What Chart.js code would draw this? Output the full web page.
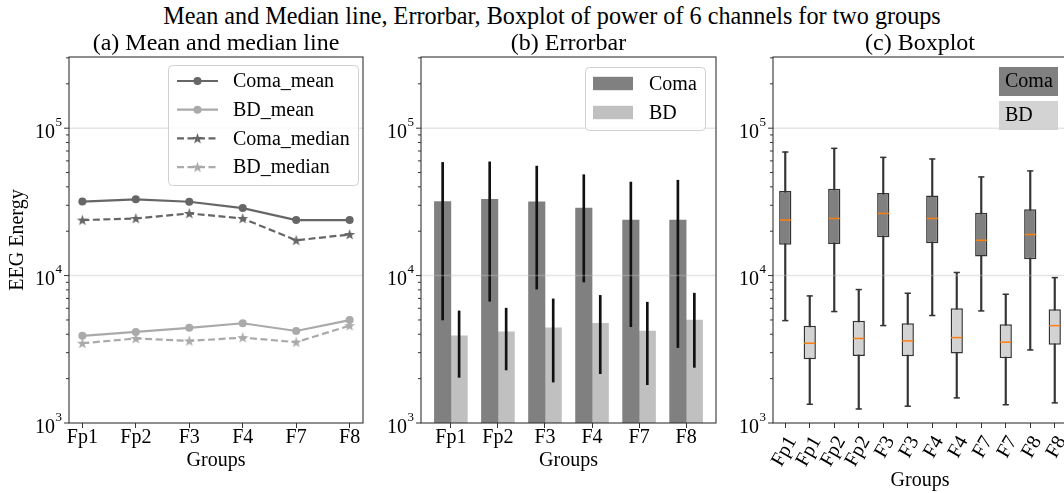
<!DOCTYPE html>
<html><head><meta charset="utf-8">
<script src="https://cdn.jsdelivr.net/npm/chart.js@4.4.0/dist/chart.umd.min.js"></script>
<style>
html,body{margin:0;padding:0;background:#fff;overflow:hidden;width:1064px;height:493px;}
#wrap{position:relative;width:1064px;height:493px;overflow:hidden;background:#fff;}
canvas{position:absolute;top:0;}
#title{position:absolute;left:0;width:1104px;top:4px;text-align:center;font:24.2px "Liberation Serif";line-height:24px;color:#000;white-space:nowrap;}
</style></head><body>
<div id="wrap">
<div id="title">Mean and Median line, Errorbar, Boxplot of power of 6 channels for two groups</div>
<canvas id="ca" width="380" height="493" style="left:0px"></canvas>
<canvas id="cb" width="345" height="493" style="left:380px"></canvas>
<canvas id="cc" width="350" height="493" style="left:725px"></canvas>
</div>
<script>
// ---------------- data ----------------
const channels = ['Fp1', 'Fp2', 'F3', 'F4', 'F7', 'F8'];
const comaMean = [31800, 32900, 31700, 28700, 23800, 23800];
const bdMean = [3900, 4150, 4420, 4750, 4210, 4990];
const comaMedian = [23800, 24400, 26400, 24400, 17350, 19000];
const bdMedian = [3475, 3745, 3605, 3795, 3535, 4575];
const comaStd = [26800, 26200, 23600, 19650, 19300, 20550];
const bdStd = [1860, 1860, 2525, 2590, 2390, 2605];

const boxLabels = ['Fp1', 'Fp1', 'Fp2', 'Fp2', 'F3', 'F3', 'F4', 'F4', 'F7', 'F7', 'F8', 'F8'];
const comaWhiskerLow = [4950, 5700, 4580, 5360, 5760, 3130];
const comaQ1 = [16200, 16400, 18200, 16600, 13500, 12900];
const comaQ3 = [37500, 38900, 36300, 35000, 26700, 28200];
const comaWhiskerHigh = [68900, 73000, 63400, 61800, 46700, 51300];
const bdWhiskerLow = [1340, 1245, 1300, 1480, 1330, 1370];
const bdQ1 = [2710, 2850, 2840, 2960, 2750, 3390];
const bdQ3 = [4560, 4930, 4750, 6010, 4680, 5910];
const bdWhiskerHigh = [7280, 8040, 7590, 10500, 7470, 9690];

const yMajorTicks = [1e3, 1e4, 1e5];
const yTickExponents = ['3', '4', '5'];
const yMinorMultipliers = [2, 3, 4, 5, 6, 7, 8, 9];
const yMin = 1000, yMax = 304000;

// ---------------- styles ----------------
const FONT = 'Liberation Serif';
const C_COMA_LINE = '#666666', C_BD_LINE = '#aaaaaa';
const C_COMA_BAR = '#808080', C_BD_BAR = '#c0c0c0';
const C_COMA_BOX = '#808080', C_BD_BOX = '#d3d3d3';
const C_EDGE = '#333333';

function starImg(color) {
  const c = document.createElement('canvas');
  c.width = 13; c.height = 13;
  const g = c.getContext('2d');
  g.fillStyle = color;
  g.beginPath();
  for (let i = 0; i < 10; i++) {
    const r = i % 2 ? 2.3 : 5.8;
    const a = -Math.PI / 2 + i * Math.PI / 5;
    g.lineTo(6.5 + r * Math.cos(a), 6.9 + r * Math.sin(a));
  }
  g.closePath(); g.fill();
  return c;
}
const starComa = starImg(C_COMA_LINE), starBD = starImg(C_BD_LINE);

function roundBox(ctx, x, y, w, h) {
  ctx.beginPath();
  ctx.roundRect(x + 0.5, y + 0.5, w, h, 4);
  ctx.fillStyle = 'rgba(255,255,255,0.8)'; ctx.fill();
  ctx.strokeStyle = '#d0d0d0'; ctx.lineWidth = 1; ctx.stroke();
}

function decor(cfg) {
  return {
    id: 'decor',
    afterDatasetsDraw(chart) {
      const {ctx, chartArea: a, scales: {y}} = chart;
      ctx.save();
      // grid (on top of bars, translucent)
      ctx.lineWidth = 1.5; ctx.strokeStyle = 'rgba(190,190,190,0.4)';
      yMajorTicks.forEach(v => {
        if (v <= y.min) return;
        const p = y.getPixelForValue(v);
        ctx.beginPath(); ctx.moveTo(a.left, p); ctx.lineTo(a.right, p); ctx.stroke();
      });
      // spines
      ctx.strokeStyle = C_EDGE; ctx.lineWidth = 1.1;
      ctx.strokeRect(a.left, a.top, a.right - a.left, a.bottom - a.top);
      // y ticks + labels
      ctx.lineWidth = 1; ctx.fillStyle = '#000';
      const tick = (p, len) => { ctx.beginPath(); ctx.moveTo(a.left - len, p); ctx.lineTo(a.left, p); ctx.stroke(); };
      yMajorTicks.forEach((base, k) => {
        const p = y.getPixelForValue(base);
        tick(p, 5);
        ctx.textAlign = 'right'; ctx.textBaseline = 'alphabetic';
        ctx.font = `13px ${FONT}`;
        const ex = yTickExponents[k];
        const ew = ctx.measureText(ex).width;
        ctx.fillText(ex, a.left - 7, p - 2.5);
        ctx.font = `20px ${FONT}`;
        ctx.fillText('10', a.left - 7 - ew - 0.5, p + 9.5);
        yMinorMultipliers.forEach(m => {
          const v = base * m;
          if (v > y.max) return;
          tick(y.getPixelForValue(v), 3);
        });
      });
      // subplot title
      ctx.font = `24px ${FONT}`; ctx.textAlign = 'center'; ctx.textBaseline = 'alphabetic';
      ctx.fillText(cfg.title, (a.left + a.right) / 2, a.top - 7);
      // legend
      if (cfg.legend) cfg.legend(chart, ctx, a);
      ctx.restore();
    }
  };
}

function legendLines(chart, ctx, a) {
  const w = 190, h = 120;
  const x0 = a.right - 5 - w, y0 = a.top + 8;
  roundBox(ctx, x0, y0, w, h);
  chart.data.datasets.forEach((ds, i) => {
    const cy = y0 + 16 + i * 28.7;
    ctx.strokeStyle = ds.borderColor; ctx.lineWidth = 2.2;
    ctx.setLineDash(ds.borderDash || []);
    ctx.beginPath(); ctx.moveTo(x0 + 9, cy); ctx.lineTo(x0 + 50, cy); ctx.stroke();
    ctx.setLineDash([]);
    if (ds.pointStyle === 'circle') {
      ctx.fillStyle = ds.borderColor;
      ctx.beginPath(); ctx.arc(x0 + 29.5, cy, 4, 0, Math.PI * 2); ctx.fill();
    } else {
      ctx.drawImage(ds.pointStyle, x0 + 29.5 - 6.5, cy - 6.5);
    }
    ctx.fillStyle = '#000'; ctx.font = `20px ${FONT}`;
    ctx.textAlign = 'left'; ctx.textBaseline = 'middle';
    ctx.fillText(ds.label, x0 + 65, cy + 1);
  });
}

function legendBars(chart, ctx, a) {
  const w = 120, h = 63;
  const x0 = a.right - 11 - w, y0 = a.top + 10;
  roundBox(ctx, x0, y0, w, h);
  chart.data.datasets.slice(0, 2).forEach((ds, i) => {
    const cy = y0 + 16.5 + i * 29;
    ctx.fillStyle = ds.backgroundColor;
    ctx.fillRect(x0 + 8, cy - 6.7, 40, 13.4);
    ctx.fillStyle = '#000'; ctx.font = `20px ${FONT}`;
    ctx.textAlign = 'left'; ctx.textBaseline = 'middle';
    ctx.fillText(ds.label, x0 + 64, cy + 1);
  });
}

function legendBoxes(chart, ctx, a) {
  const items = [{label: 'Coma', color: C_COMA_BOX}, {label: 'BD', color: C_BD_BOX}];
  items.forEach((it, i) => {
    const x0 = a.right - 68, y0 = a.top + 10 + i * 34;
    ctx.fillStyle = it.color;
    ctx.fillRect(x0, y0, 59, 29);
    ctx.fillStyle = '#000'; ctx.font = `20px ${FONT}`;
    ctx.textAlign = 'left'; ctx.textBaseline = 'middle';
    ctx.fillText(it.label, x0 + 6, y0 + 15);
  });
}

function yAxis(width, title) {
  return {
    type: 'logarithmic', min: yMin, max: yMax,
    afterBuildTicks: s => {
      const t = [];
      yMajorTicks.forEach(b => { t.push({value: b, major: true}); yMinorMultipliers.forEach(m => { if (b * m <= yMax) t.push({value: b * m}); }); });
      s.ticks = t;
    },
    afterFit: s => { s.width = width; s.paddingTop = 0; s.paddingBottom = 0; },
    grid: {display: false}, border: {display: false},
    ticks: {display: false},
    title: title ? {display: true, text: title, color: '#000', font: {family: FONT, size: 20}, padding: {top: 6, bottom: 0}} : {display: false}
  };
}

function xAxis(min, max, labels, offset, height, opts) {
  return {
    type: 'linear', min: min, max: max, offset: false,
    afterBuildTicks: s => { s.ticks = labels.map((_, i) => ({value: i + offset})); },
    afterFit: s => { s.height = height; s.paddingLeft = 0; s.paddingRight = 0; },
    grid: {display: true, offset: false, drawOnChartArea: false, drawTicks: true, tickLength: 5, tickColor: C_EDGE, tickWidth: 1, color: 'rgba(0,0,0,0)'},
    border: {display: false},
    ticks: Object.assign({
      autoSkip: false, color: '#000', font: {family: FONT, size: 20},
      callback: v => labels[Math.round(v - offset)]
    }, opts.ticks),
    title: {display: true, text: 'Groups', color: '#000', font: {family: FONT, size: 20}, padding: {top: 0, bottom: opts.titlePad}}
  };
}

const common = {
  responsive: false, animation: false, events: [],
  plugins: {legend: {display: false}, tooltip: {enabled: false}}
};

// ---------------- (a) lines ----------------
const pts = arr => arr.map((v, i) => ({x: i, y: v}));
new Chart(document.getElementById('ca'), {
  type: 'line',
  data: {datasets: [
    {label: 'Coma_mean', data: pts(comaMean), borderColor: C_COMA_LINE, backgroundColor: C_COMA_LINE, borderWidth: 2.2, pointStyle: 'circle', pointRadius: 4, pointBorderWidth: 0, pointBackgroundColor: C_COMA_LINE},
    {label: 'BD_mean', data: pts(bdMean), borderColor: C_BD_LINE, backgroundColor: C_BD_LINE, borderWidth: 2.2, pointStyle: 'circle', pointRadius: 4, pointBorderWidth: 0, pointBackgroundColor: C_BD_LINE},
    {label: 'Coma_median', data: pts(comaMedian), borderColor: C_COMA_LINE, borderWidth: 2.2, borderDash: [7, 3.5], pointStyle: starComa, pointRadius: 5},
    {label: 'BD_median', data: pts(bdMedian), borderColor: C_BD_LINE, borderWidth: 2.2, borderDash: [7, 3.5], pointStyle: starBD, pointRadius: 5}
  ]},
  options: Object.assign({}, common, {
    layout: {padding: {left: 0, right: 17, top: 57, bottom: 0}},
    scales: {
      x: xAxis(-0.25, 5.25, channels, 0, 70, {ticks: {padding: -2, maxRotation: 0, minRotation: 0}, titlePad: 20}),
      y: yAxis(69, 'EEG Energy')
    }
  }),
  plugins: [decor({title: '(a) Mean and median line', legend: legendLines})]
});

// ---------------- (b) error bars ----------------
const bw = 0.175;
new Chart(document.getElementById('cb'), {
  type: 'bar',
  data: {datasets: [
    {label: 'Coma', data: comaMean.map((v, i) => ({x: i - bw, y: v})), backgroundColor: C_COMA_BAR, grouped: false, categoryPercentage: 1, barPercentage: 1, order: 2},
    {label: 'BD', data: bdMean.map((v, i) => ({x: i + bw, y: v})), backgroundColor: C_BD_BAR, grouped: false, categoryPercentage: 1, barPercentage: 1, order: 2},
    {label: 'Coma err', data: comaMean.map((v, i) => ({x: i - bw, y: [v - comaStd[i], v + comaStd[i]]})), backgroundColor: '#111', grouped: false, barThickness: 2, order: 1},
    {label: 'BD err', data: bdMean.map((v, i) => ({x: i + bw, y: [v - bdStd[i], v + bdStd[i]]})), backgroundColor: '#111', grouped: false, barThickness: 2, order: 1}
  ]},
  options: Object.assign({}, common, {
    layout: {padding: {left: 0, right: 9, top: 57, bottom: 0}},
    scales: {
      x: xAxis(-0.635, 5.635, channels, 0, 70, {ticks: {padding: -2, maxRotation: 0, minRotation: 0}, titlePad: 20}),
      y: yAxis(41, null)
    }
  }),
  plugins: [decor({title: '(b) Errorbar', legend: legendBars})]
});

// ---------------- (c) boxplot ----------------
const pos = (g, i) => 2 * i + 1 + g; // g=0 Coma, g=1 BD
const boxSet = (g, low, q1, med, q3, high, fill) => [
  {data: low.map((v, i) => ({x: pos(g, i), y: [v, high[i]]})), backgroundColor: C_EDGE, grouped: false, barThickness: 1.5, order: 5},
  {data: q1.map((v, i) => ({x: pos(g, i), y: [v, q3[i]]})), backgroundColor: fill, borderColor: C_EDGE, borderWidth: 1.5, borderSkipped: false, grouped: false, categoryPercentage: 0.5, barPercentage: 1, order: 4},
  {type: 'line', showLine: false, data: med.map((v, i) => ({x: pos(g, i), y: v})), pointStyle: 'line', pointRadius: 5.6, pointBorderWidth: 1.5, pointBorderColor: '#ff7f0e', order: 1},
  {type: 'line', showLine: false, data: low.map((v, i) => ({x: pos(g, i), y: v})), pointStyle: 'line', pointRadius: 3.1, pointBorderWidth: 1.5, pointBorderColor: C_EDGE, order: 2},
  {type: 'line', showLine: false, data: high.map((v, i) => ({x: pos(g, i), y: v})), pointStyle: 'line', pointRadius: 3.1, pointBorderWidth: 1.5, pointBorderColor: C_EDGE, order: 2}
];
new Chart(document.getElementById('cc'), {
  type: 'bar',
  data: {datasets: [
    ...boxSet(0, comaWhiskerLow, comaQ1, comaMedian, comaQ3, comaWhiskerHigh, C_COMA_BOX),
    ...boxSet(1, bdWhiskerLow, bdQ1, bdMedian, bdQ3, bdWhiskerHigh, C_BD_BOX)
  ]},
  options: Object.assign({}, common, {
    layout: {padding: {left: 0, right: 8, top: 57, bottom: 0}},
    scales: {
      x: xAxis(0.5, 12.5, boxLabels, 1, 70, {ticks: {padding: 4, maxRotation: 60, minRotation: 60, labelOffset: 7}, titlePad: 0}),
      y: yAxis(48, null)
    }
  }),
  plugins: [decor({title: '(c) Boxplot', legend: legendBoxes})]
});
</script>
</body></html>
